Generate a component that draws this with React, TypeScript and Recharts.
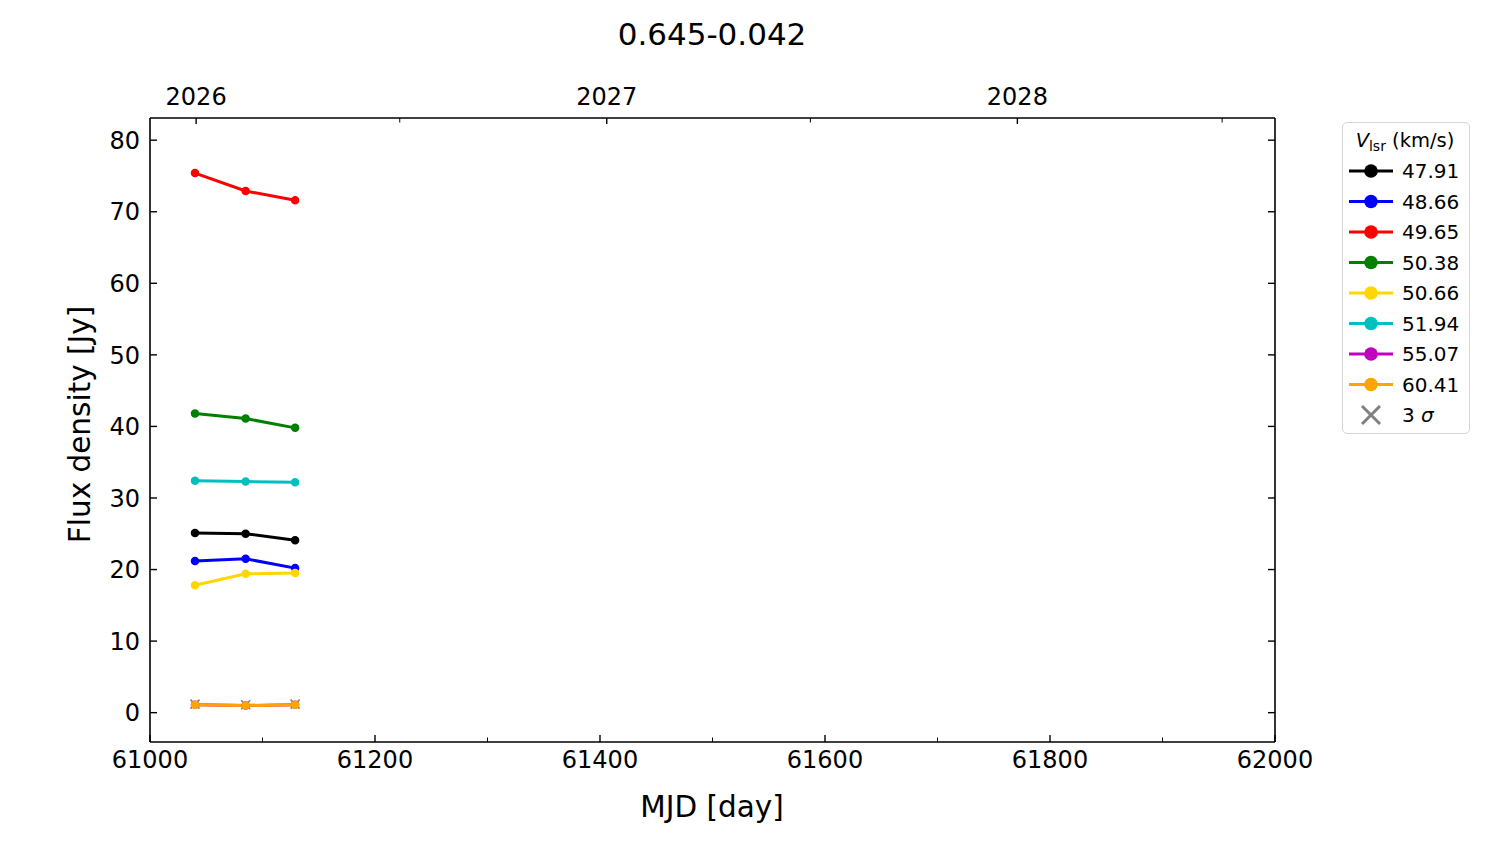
import React from "react";
import { ComposedChart, Line, XAxis, YAxis } from "recharts";

const FONT = "'DejaVu Sans', sans-serif";

// observation epochs (MJD)
const MJD = [61040, 61085, 61129];

// flux density per velocity channel [Jy]
const FLUX_4791 = [25.1, 25.0, 24.1];
const FLUX_4866 = [21.2, 21.5, 20.2];
const FLUX_4965 = [75.4, 72.9, 71.6];
const FLUX_5038 = [41.8, 41.1, 39.8];
const FLUX_5066 = [17.8, 19.4, 19.5];
const FLUX_5194 = [32.4, 32.3, 32.2];
const FLUX_5507 = [1.1, 1.0, 1.1];
const FLUX_6041 = [1.1, 1.0, 1.1];
const SIGMA3 = [1.2, 1.1, 1.2];

const VELOCITIES = ["47.91", "48.66", "49.65", "50.38", "50.66", "51.94", "55.07", "60.41"];
const COLORS = ["#000000", "#0000ff", "#ff0000", "#008000", "#ffd700", "#00bfbf", "#bf00bf", "#ffa500"];
const SERIES = [FLUX_4791, FLUX_4866, FLUX_4965, FLUX_5038, FLUX_5066, FLUX_5194, FLUX_5507, FLUX_6041];

const X_TICKS = [61000, 61100, 61200, 61300, 61400, 61500, 61600, 61700, 61800, 61900, 62000];
const Y_TICKS = [0, 10, 20, 30, 40, 50, 60, 70, 80];
const YEAR_TICKS = [61041, 61222, 61406, 61587, 61771, 61953];
const YEAR_LABELS = ["2026", "", "2027", "", "2028", ""];

const TITLE = "0.645-0.042";
const X_LABEL = "MJD [day]";
const Y_LABEL = "Flux density [Jy]";
const SIGMA_LABEL = "3 σ";

const data = MJD.map((mjd, i) => {
  const row: any = { mjd, sigma: SIGMA3[i] };
  SERIES.forEach((s, k) => {
    row["v" + k] = s[i];
  });
  return row;
});

const BottomTick = (props: any) => {
  const { x, y, payload } = props;
  const major = payload.value % 200 === 0;
  return (
    <g>
      <line x1={x} x2={x} y1={y} y2={y - (major ? 7 : 4.5)} stroke="#000" strokeWidth={major ? 1.4 : 1} />
      {major && (
        <text x={x} y={y + 26} textAnchor="middle" fontSize={24} fontFamily={FONT} fill="#000">
          {payload.value}
        </text>
      )}
    </g>
  );
};

const TopTick = (props: any) => {
  const { x, y, index } = props;
  const label = YEAR_LABELS[index];
  return (
    <g>
      <line x1={x} x2={x} y1={y} y2={y + (label ? 6 : 4.5)} stroke="#000" strokeWidth={label ? 1.4 : 1} />
      {label && (
        <text x={x} y={y - 13} textAnchor="middle" fontSize={24} fontFamily={FONT} fill="#000">
          {label}
        </text>
      )}
    </g>
  );
};

const LeftTick = (props: any) => {
  const { x, y, payload } = props;
  return (
    <g>
      <line x1={x} x2={x + 7} y1={y} y2={y} stroke="#000" strokeWidth={1.4} />
      <text x={x - 10} y={y} dy="0.36em" textAnchor="end" fontSize={24} fontFamily={FONT} fill="#000">
        {payload.value}
      </text>
    </g>
  );
};

const RightTick = (props: any) => {
  const { x, y } = props;
  return <line x1={x} x2={x - 7} y1={y} y2={y} stroke="#000" strokeWidth={1.4} />;
};

const Cross = (props: any) => {
  const { cx, cy, size = 4.5, sw = 1.6 } = props;
  if (cx == null || cy == null) return null;
  return (
    <g>
      <line x1={cx - size} y1={cy - size} x2={cx + size} y2={cy + size} stroke="#808080" strokeWidth={sw} />
      <line x1={cx - size} y1={cy + size} x2={cx + size} y2={cy - size} stroke="#808080" strokeWidth={sw} />
    </g>
  );
};

function LegendBox() {
  const rowY = (i: number) => 48 + i * 30.5;
  return (
    <div
      style={{
        position: "absolute",
        left: 1342,
        top: 122,
        width: 126,
        height: 310,
        border: "1.5px solid #d6d6d6",
        borderRadius: 5,
        background: "#fff",
      }}
    >
      <svg width={126} height={310} style={{ display: "block" }}>
        <text x={62} y={24} textAnchor="middle" fontSize={19.5} fontFamily={FONT} fill="#000">
          <tspan fontStyle="italic">V</tspan>
          <tspan fontSize={14} dy={4}>lsr</tspan>
          <tspan dy={-4}> (km/s)</tspan>
        </text>
        {VELOCITIES.map((v, i) => (
          <g key={v}>
            <line x1={6} x2={50} y1={rowY(i)} y2={rowY(i)} stroke={COLORS[i]} strokeWidth={3} />
            <circle cx={28} cy={rowY(i)} r={6.8} fill={COLORS[i]} />
            <text x={59} y={rowY(i)} dy="0.36em" fontSize={20} fontFamily={FONT} fill="#000">
              {v}
            </text>
          </g>
        ))}
        <Cross cx={28} cy={rowY(8)} size={9} sw={3} />
        <text x={59} y={rowY(8)} dy="0.36em" fontSize={20} fontFamily={FONT} fill="#000">
          {SIGMA_LABEL.slice(0, 2)}
          <tspan fontStyle="italic">{SIGMA_LABEL.slice(2)}</tspan>
        </text>
      </svg>
    </div>
  );
}

export default function App() {
  return (
    <div style={{ position: "absolute", left: 0, top: 0, width: 1500, height: 844, background: "#fff" }}>
      <ComposedChart
        width={1500}
        height={844}
        data={data}
        margin={{ top: 78, right: 205, bottom: 42, left: 90 }}
      >
        <XAxis
          xAxisId="bottom"
          dataKey="mjd"
          type="number"
          domain={[61000, 62000]}
          allowDataOverflow
          ticks={X_TICKS}
          interval={0}
          height={60}
          tickSize={0}
          tickMargin={0}
          tickLine={false}
          tick={<BottomTick />}
          axisLine={{ stroke: "#000", strokeWidth: 1.6 }}
        />
        <XAxis
          xAxisId="top"
          orientation="top"
          dataKey="mjd"
          type="number"
          domain={[61000, 62000]}
          allowDataOverflow
          ticks={YEAR_TICKS}
          interval={0}
          height={40}
          tickSize={0}
          tickMargin={0}
          tickLine={false}
          tick={<TopTick />}
          axisLine={{ stroke: "#000", strokeWidth: 1.6 }}
        />
        <YAxis
          yAxisId="left"
          type="number"
          domain={[-4.1, 83.1]}
          allowDataOverflow
          ticks={Y_TICKS}
          interval={0}
          width={60}
          tickSize={0}
          tickMargin={0}
          tickLine={false}
          tick={<LeftTick />}
          axisLine={{ stroke: "#000", strokeWidth: 1.6 }}
        />
        <YAxis
          yAxisId="right"
          orientation="right"
          type="number"
          domain={[-4.1, 83.1]}
          allowDataOverflow
          ticks={Y_TICKS}
          interval={0}
          width={20}
          tickSize={0}
          tickMargin={0}
          tickLine={false}
          tick={<RightTick />}
          axisLine={{ stroke: "#000", strokeWidth: 1.6 }}
        />
        <Line
          xAxisId="bottom"
          yAxisId="left"
          dataKey="sigma"
          stroke="none"
          dot={(p: any) => <Cross key={"s" + p.index} cx={p.cx} cy={p.cy} />}
          activeDot={false}
          isAnimationActive={false}
        />
        {VELOCITIES.map((v, k) => (
          <Line
            key={v}
            xAxisId="bottom"
            yAxisId="left"
            dataKey={"v" + k}
            stroke={COLORS[k]}
            strokeWidth={3}
            dot={{ r: 3.5, fill: COLORS[k], stroke: COLORS[k], strokeWidth: 1.5 }}
            activeDot={false}
            isAnimationActive={false}
          />
        ))}
      </ComposedChart>
      <svg
        width={1500}
        height={844}
        style={{ position: "absolute", left: 0, top: 0, pointerEvents: "none" }}
      >
        <text x={712} y={45} textAnchor="middle" fontSize={31} fontFamily={FONT} fill="#000">
          {TITLE}
        </text>
        <text x={712} y={817} textAnchor="middle" fontSize={29.5} fontFamily={FONT} fill="#000">
          {X_LABEL}
        </text>
        <text
          x={0}
          y={0}
          transform="translate(90, 424.5) rotate(-90)"
          textAnchor="middle"
          fontSize={29.5}
          fontFamily={FONT}
          fill="#000"
        >
          {Y_LABEL}
        </text>
      </svg>
      <LegendBox />
    </div>
  );
}
